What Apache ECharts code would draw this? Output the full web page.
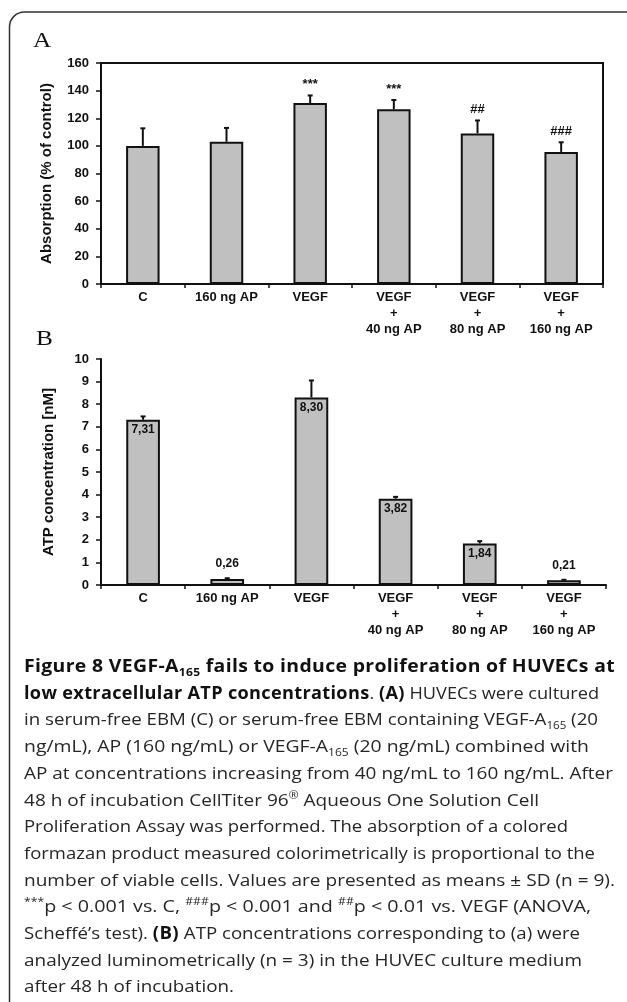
<!DOCTYPE html>
<html><head><meta charset="utf-8">
<script src="https://cdn.jsdelivr.net/npm/echarts@6/dist/echarts.min.js"></script>
<style>
html,body{margin:0;padding:0;background:#fff;overflow:hidden;}
#wrap{position:relative;width:627px;height:1002px;overflow:hidden;}
#chart{position:absolute;left:0;top:0;width:627px;height:1002px;}
#cap{position:absolute;left:24px;top:653px;font-family:'Open Sans',sans-serif;font-size:17px;line-height:26.7px;color:#262626;white-space:nowrap;}
#cap .ln{display:block;width:max-content;transform-origin:0 50%;}
#cap b{font-weight:700;color:#111;letter-spacing:0.3px;}
#cap sub,#cap sup{font-size:0.62em;line-height:0;}
</style></head>
<body><div id="wrap"><div id="chart"></div><div id="cap"></div></div>
<script>
// ---- data ----
const categories = ['C', '160 ng AP', 'VEGF', 'VEGF\n+\n40 ng AP', 'VEGF\n+\n80 ng AP', 'VEGF\n+\n160 ng AP'];
const absorption = [100, 103, 131, 126.5, 109, 95.6];
const absorptionSD = [12.7, 10, 5.5, 6.7, 9.4, 7];
const significance = ['', '', '***', '***', '##', '###'];
const atp = [7.31, 0.26, 8.30, 3.82, 1.84, 0.21];
const atpSD = [0.15, 0.04, 0.75, 0.08, 0.1, 0.02];
const axisA = {name: 'Absorption (% of control)', min: 0, max: 160, interval: 20};
const axisB = {name: 'ATP concentration [nM]', min: 0, max: 10, interval: 1};
const panelLabels = ['A', 'B'];
const captionLines = [
  '<b>Figure 8 VEGF-A<sub>165</sub> fails to induce proliferation of HUVECs at</b>',
  '<b>low extracellular ATP concentrations</b>. <b>(A)</b> HUVECs were cultured',
  'in serum-free EBM (C) or serum-free EBM containing VEGF-A<sub>165</sub> (20',
  'ng/mL), AP (160 ng/mL) or VEGF-A<sub>165</sub> (20 ng/mL) combined with',
  'AP at concentrations increasing from 40 ng/mL to 160 ng/mL. After',
  '48 h of incubation CellTiter 96<sup>®</sup> Aqueous One Solution Cell',
  'Proliferation Assay was performed. The absorption of a colored',
  'formazan product measured colorimetrically is proportional to the',
  'number of viable cells. Values are presented as means ± SD (n = 9).',
  '<sup>***</sup>p &lt; 0.001 vs. C, <sup>###</sup>p &lt; 0.001 and <sup>##</sup>p &lt; 0.01 vs. VEGF (ANOVA,',
  'Scheffé’s test). <b>(B)</b> ATP concentrations corresponding to (a) were',
  'analyzed luminometrically (n = 3) in the HUVEC culture medium',
  'after 48 h of incubation.'
];
// layout: right edge (px) of each caption line in the reference
const captionRight = [615, 599, 598, 589, 613, 539, 568, 595, 615, 591, 580, 582, 234];

// ---- caption ----
const cap = document.getElementById('cap');
cap.innerHTML = captionLines.map(l => '<span class="ln">' + l + '</span>').join('');
cap.querySelectorAll('.ln').forEach((sp, i) => {
  const w = sp.getBoundingClientRect().width;
  const target = captionRight[i] - 24;
  sp.style.transform = 'scaleX(' + (target / w) + ')';
});

// ---- chart ----
const FONT = '"Liberation Sans", Arial, sans-serif';
const INK = '#111';
const chart = echarts.init(document.getElementById('chart'), null, {renderer: 'canvas'});

function errRender(sig) {
  return function (params, api) {
    const i = api.value(0), v = api.value(1), e = api.value(2);
    const p0 = api.coord([i, v]);
    const p1 = api.coord([i, v + e]);
    const children = [
      {type: 'line', shape: {x1: p0[0], y1: p0[1], x2: p1[0], y2: p1[1]}, style: {stroke: INK, lineWidth: 2}},
      {type: 'line', shape: {x1: p1[0] - 2.5, y1: p1[1], x2: p1[0] + 2.5, y2: p1[1]}, style: {stroke: INK, lineWidth: 2}}
    ];
    if (sig && sig[params.dataIndex]) {
      children.push({type: 'text', x: p1[0], y: p1[1] - 11,
        style: {text: sig[params.dataIndex], align: 'center', verticalAlign: 'middle',
          font: 'bold 13px ' + FONT, fill: INK}});
    }
    return {type: 'group', children};
  };
}

function xAxis(gridIndex) {
  return {
    type: 'category', gridIndex, data: categories,
    axisLine: {lineStyle: {color: INK, width: 2}},
    axisTick: {show: true, alignWithLabel: false, length: 4, lineStyle: {color: INK, width: 1.5}},
    axisLabel: {color: INK, fontFamily: FONT, fontWeight: 'bold', fontSize: 13, lineHeight: 16, margin: 5, interval: 0},
    splitLine: {show: false}
  };
}
function yAxis(gridIndex, a, gap) {
  return {
    type: 'value', gridIndex, min: a.min, max: a.max, interval: a.interval,
    name: a.name, nameLocation: 'middle', nameGap: gap,
    nameTextStyle: {color: INK, fontFamily: FONT, fontWeight: 'bold', fontSize: 15},
    axisLine: {show: true, lineStyle: {color: INK, width: 2}},
    axisTick: {show: true, length: 5, lineStyle: {color: INK, width: 1.5}},
    axisLabel: {color: INK, fontFamily: FONT, fontWeight: 'bold', fontSize: 13, margin: 12},
    splitLine: {show: false}
  };
}

const barStyle = {color: '#c0c0c0', borderColor: INK, borderWidth: 2};
const serif = '"Liberation Serif", "Times New Roman", serif';

chart.setOption({
  animation: false,
  backgroundColor: '#fff',
  grid: [
    {left: 101, top: 63, width: 502, height: 221, show: true, borderColor: INK, borderWidth: 2, backgroundColor: 'transparent', outerBoundsMode: 'none'},
    {left: 101, top: 359, width: 505, height: 226, outerBoundsMode: 'none'}
  ],
  xAxis: [xAxis(0), xAxis(1)],
  yAxis: [yAxis(0, axisA, 47), yAxis(1, axisB, 45)],
  graphic: [
    {type: 'rect', shape: {x: 9.5, y: 12, width: 660, height: 1100, r: 15}, style: {fill: 'none', stroke: '#333', lineWidth: 1.5}, silent: true},
    {type: 'text', x: 33, y: 30, scaleX: 1.15, style: {text: panelLabels[0], font: '22px ' + serif, fill: INK}},
    {type: 'text', x: 36, y: 328, scaleX: 1.15, style: {text: panelLabels[1], font: '22px ' + serif, fill: INK}}
  ],
  series: [
    {type: 'bar', xAxisIndex: 0, yAxisIndex: 0, data: absorption, barWidth: '40%', itemStyle: barStyle, z: 2},
    {type: 'custom', xAxisIndex: 0, yAxisIndex: 0, renderItem: errRender(significance),
      data: absorption.map((v, i) => [i, v, absorptionSD[i]]), encode: {x: 0, y: 1}, z: 3},
    {type: 'bar', xAxisIndex: 1, yAxisIndex: 1, barWidth: '40%', itemStyle: barStyle, z: 2,
      data: atp.map(v => ({value: v, label: {position: v < 1 ? 'top' : 'insideTop', distance: v < 1 ? 9 : 4}})),
      label: {show: true, color: INK, fontFamily: FONT, fontWeight: 'bold', fontSize: 12,
        formatter: p => p.value.toFixed(2).replace('.', ',')}},
    {type: 'custom', xAxisIndex: 1, yAxisIndex: 1, renderItem: errRender(null),
      data: atp.map((v, i) => [i, v, atpSD[i]]), encode: {x: 0, y: 1}, z: 3}
  ]
});
</script>
</body></html>
